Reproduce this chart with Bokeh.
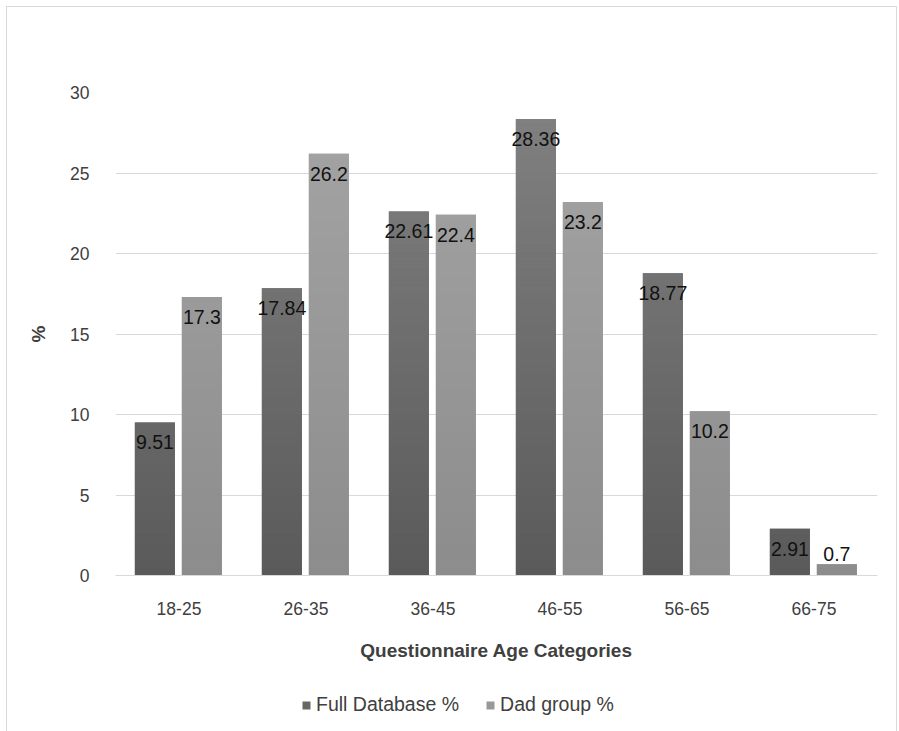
from bokeh.plotting import figure
from bokeh.layouts import column
from bokeh.models import (ColumnDataSource, FactorRange, Legend, LegendItem,
                          FixedTicker)
from bokeh.transform import dodge
from bokeh.embed import file_html
from bokeh.resources import INLINE
from bokeh.core.properties import value

categories = ["18-25", "26-35", "36-45", "46-55", "56-65", "66-75"]
full_db = [9.51, 17.84, 22.61, 28.36, 18.77, 2.91]
dad = [17.3, 26.2, 22.4, 23.2, 10.2, 0.7]
series_names = ["Full Database %", "Dad group %"]
y_ticks = [0, 5, 10, 15, 20, 25, 30]
x_title = "Questionnaire Age Categories"
y_title = "%"

FONT = "Liberation Sans"
TXT = "#404040"
GRID = "#d9d9d9"

p = figure(x_range=FactorRange(*categories), y_range=(0, 30),
           frame_width=762, frame_height=483,
           min_border_left=108, min_border_right=19,
           min_border_top=85, min_border_bottom=100,
           output_backend="svg", toolbar_location=None)
p.outline_line_color = None
p.background_fill_color = "white"
p.border_fill_color = "white"

p.xgrid.grid_line_color = None
p.ygrid.grid_line_color = GRID
p.ygrid.grid_line_width = 1
p.yaxis.ticker = FixedTicker(ticks=y_ticks)

for ax in (p.xaxis, p.yaxis):
    ax.major_tick_line_color = None
    ax.minor_tick_line_color = None
    ax.major_label_text_font = FONT
    ax.major_label_text_font_size = "17.5px"
    ax.major_label_text_color = TXT
    ax.axis_label_text_font = FONT
    ax.axis_label_text_font_size = "19px"
    ax.axis_label_text_font_style = "bold"
    ax.axis_label_text_color = TXT
p.yaxis.axis_line_color = None
p.xaxis.axis_line_color = GRID
p.xaxis.major_label_standoff = 20
p.xaxis.axis_label = x_title
p.xaxis.axis_label_standoff = 22
p.yaxis.major_label_standoff = 20
p.yaxis.axis_label = y_title
p.yaxis.axis_label_standoff = 18

offsets = [-0.19, 0.18]
bar_w = 0.315
grad = [((90, 90, 90), (130, 130, 130)), ((140, 140, 140), (165, 165, 165))]
base_colors = ["#666666", "#999999"]

for s, vals in enumerate([full_db, dad]):
    src = ColumnDataSource(dict(cat=categories, val=vals))
    p.vbar(x=dodge("cat", offsets[s], range=p.x_range), top="val",
           width=bar_w, source=src, fill_color=base_colors[s], line_color=None)
    bc, bt, bb, cols = [], [], [], []
    nb = 60
    for k in range(nb):
        lo = 30 * k / nb
        hi = 30 * (k + 1) / nb
        f = (k + 0.5) / nb
        c0, c1 = grad[s]
        col = "#%02x%02x%02x" % tuple(int(round(c0[i] + (c1[i] - c0[i]) * f)) for i in range(3))
        for cat, v in zip(categories, vals):
            if v > lo:
                bc.append(cat)
                bb.append(lo)
                bt.append(min(v, hi + 0.02))
                cols.append(col)
    bsrc = ColumnDataSource(dict(cat=bc, bottom=bb, top=bt, color=cols))
    p.vbar(x=dodge("cat", offsets[s], range=p.x_range), bottom="bottom", top="top",
           width=bar_w, source=bsrc, fill_color="color", line_color=None)

    lsrc = ColumnDataSource(dict(cat=categories, val=vals,
                                 txt=[str(v) for v in vals],
                                 dy=[13 if v >= 2 else -17 for v in vals]))
    p.text(x=dodge("cat", offsets[s], range=p.x_range), y="val", text="txt",
           y_offset="dy", source=lsrc, text_align="center", text_baseline="top",
           text_font=value(FONT), text_font_size="19.5px", text_color="#111111")

# legend strip below the chart
lf = figure(width=889, height=60, x_range=(0, 1), y_range=(0, 1),
            min_border=0, output_backend="svg", toolbar_location=None)
lf.axis.visible = False
lf.grid.grid_line_color = None
lf.outline_line_color = None
lf.border_fill_color = "white"
items = []
for s in range(2):
    r = lf.vbar(x=[-5], top=[0], width=0.1, fill_color=base_colors[s], line_color=None)
    items.append(LegendItem(label=series_names[s], renderers=[r]))
legend = Legend(items=items, orientation="horizontal",
                location=(186, 19), padding=0, margin=0, spacing=26,
                glyph_width=10, glyph_height=10, label_standoff=5,
                label_text_font=FONT, label_text_font_size="19.5px",
                label_text_color=TXT, border_line_color=None,
                background_fill_alpha=0)
lf.add_layout(legend, "center")

layout = column(p, lf, spacing=0, margin=(6, 0, 0, 6),
                styles={"border": "1px solid #d9d9d9", "background": "white"})

open("out.html", "w").write(file_html(layout, INLINE))
